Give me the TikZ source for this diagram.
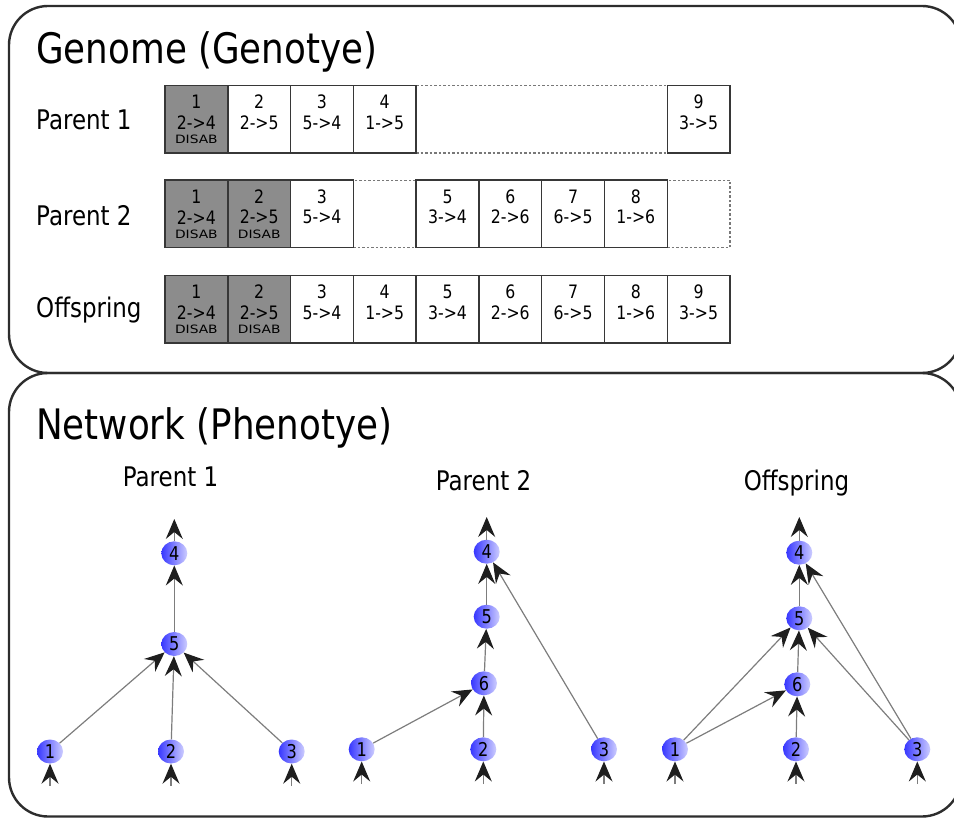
\documentclass[tikz,border=0pt]{standalone}
\usepackage{fontspec}
\setmainfont{DejaVu Sans}[FakeStretch=0.85]
\newfontfamily\tagfont{DejaVu Sans}[FakeStretch=1.2]
\usetikzlibrary{arrows.meta,shapes.geometric,calc}

\definecolor{framecol}{RGB}{45,45,45}
\definecolor{boxline}{RGB}{55,55,55}
\definecolor{disabfill}{RGB}{140,140,140}
\definecolor{gapline}{RGB}{120,120,120}
\definecolor{edgecol}{RGB}{125,125,125}
\definecolor{tipcol}{RGB}{30,30,30}
\definecolor{neurondark}{RGB}{55,55,255}
\definecolor{neuronlight}{RGB}{205,205,255}

% one gene: name, x, top, style, innovation number, connection
\newcommand{\gene}[6]{%
  \node[#4, anchor=north west] (#1) at (#2,#3) {};
  \node[genetext] at ([yshift=-16.5pt]#1.north) {#5};
  \node[genetext] at ([yshift=-37pt]#1.north) {#6};}
\newcommand{\disab}[1]{\node[disabtext] at ([yshift=-54pt]#1.north) {DISAB};}

\begin{document}
\begin{tikzpicture}[x=1pt,y=-1pt,
  panel/.style={draw=framecol, line width=2.4pt, rounded corners=39pt},
  bigtitle/.style={anchor=base west, inner sep=0pt, font=\fontsize{42}{48}\selectfont},
  rowlabel/.style={anchor=base west, inner sep=0pt, font=\fontsize{27}{32}\selectfont},
  subtitle/.style={anchor=base, inner sep=0pt, font=\fontsize{27}{32}\selectfont},
  genebox/.style={draw=boxline, line width=1.4pt, fill=white, outer sep=0pt,
    inner sep=0pt, minimum width=62.8pt, minimum height=67.5pt},
  offbox/.style={genebox, fill=disabfill},
  gapbox/.style={draw=gapline, line width=1.3pt, dash pattern=on 2.5pt off 2pt,
    outer sep=0pt, inner sep=0pt, minimum height=67.5pt},
  genetext/.style={inner sep=0pt, font=\fontsize{18.5}{20}\selectfont},
  disabtext/.style={inner sep=0pt, font=\tagfont\fontsize{11.5}{13}\selectfont},
  neuron/.style={ellipse, inner sep=0pt, minimum width=26pt, minimum height=24pt,
    left color=neurondark, right color=neuronlight,
    font=\fontsize{19}{21}\selectfont},
  edge/.style={draw=edgecol, line width=1.2pt,
    -{Stealth[length=20pt, width=17pt, inset=7pt, color=tipcol]}}
]
\useasboundingbox (0,0) rectangle (954,818);

% ---------------- panels ----------------
\draw[panel] (9,6) rectangle (961,373);
\draw[panel] (9,373) rectangle (961,816.5);

% ---------------- genome ----------------
\node[bigtitle] (gtitle) at (36,64) {Genome (Genotye)};
\node[rowlabel] (lp1) at (36,130) {Parent 1};
\node[rowlabel] (lp2) at (36,226) {Parent 2};
\node[rowlabel] (loff) at (36,318) {Offspring};

% parent 1
\node[gapbox, minimum width=251.1pt, anchor=north west] (p1gap) at (416.1,85.5) {};
\gene{pa1}{165}{85.5}{offbox}{1}{2->4}\disab{pa1}
\gene{pa2}{227.8}{85.5}{genebox}{2}{2->5}
\gene{pa3}{290.6}{85.5}{genebox}{3}{5->4}
\gene{pa4}{353.3}{85.5}{genebox}{4}{1->5}
\gene{pa9}{667.2}{85.5}{genebox}{9}{3->5}

% parent 2
\node[gapbox, minimum width=62.8pt, anchor=north west] (p2gapa) at (353.3,180.2) {};
\node[gapbox, minimum width=62.8pt, anchor=north west] (p2gapb) at (667.2,180.2) {};
\gene{pb1}{165}{180.2}{offbox}{1}{2->4}\disab{pb1}
\gene{pb2}{227.8}{180.2}{offbox}{2}{2->5}\disab{pb2}
\gene{pb3}{290.6}{180.2}{genebox}{3}{5->4}
\gene{pb5}{416.1}{180.2}{genebox}{5}{3->4}
\gene{pb6}{478.9}{180.2}{genebox}{6}{2->6}
\gene{pb7}{541.7}{180.2}{genebox}{7}{6->5}
\gene{pb8}{604.4}{180.2}{genebox}{8}{1->6}

% offspring
\gene{oc1}{165}{275.5}{offbox}{1}{2->4}\disab{oc1}
\gene{oc2}{227.8}{275.5}{offbox}{2}{2->5}\disab{oc2}
\gene{oc3}{290.6}{275.5}{genebox}{3}{5->4}
\gene{oc4}{353.3}{275.5}{genebox}{4}{1->5}
\gene{oc5}{416.1}{275.5}{genebox}{5}{3->4}
\gene{oc6}{478.9}{275.5}{genebox}{6}{2->6}
\gene{oc7}{541.7}{275.5}{genebox}{7}{6->5}
\gene{oc8}{604.4}{275.5}{genebox}{8}{1->6}
\gene{oc9}{667.2}{275.5}{genebox}{9}{3->5}

% ---------------- network ----------------
\node[bigtitle] (ntitle) at (36,440) {Network (Phenotye)};
\node[subtitle] (sp1) at (170.5,486) {Parent 1};
\node[subtitle] (sp2) at (483.5,490) {Parent 2};
\node[subtitle] (soff) at (796.5,490) {Offspring};

% parent 1 network
\node[neuron] (a4) at (174.3,553.3) {4};
\node[neuron] (a5) at (174.3,644) {5};
\node[neuron] (a1) at (50,751.5) {1};
\node[neuron] (a2) at (171,751.5) {2};
\node[neuron] (a3) at (291.7,751.5) {3};
\coordinate (aout) at (174.3,519);
\coordinate (ain1) at (50,786);
\coordinate (ain2) at (171,786);
\coordinate (ain3) at (291.7,786);
\draw[edge] (a4) -- (aout);
\draw[edge] (a5) -- (a4);
\draw[edge] (a1) -- (a5);
\draw[edge] (a2) -- (a5);
\draw[edge] (a3) -- (a5);
\draw[edge] (ain1) -- (a1);
\draw[edge] (ain2) -- (a2);
\draw[edge] (ain3) -- (a3);

% parent 2 network
\node[neuron] (b4) at (486.7,551.7) {4};
\node[neuron] (b5) at (486.7,616.7) {5};
\node[neuron] (b6) at (484,683.3) {6};
\node[neuron] (b1) at (361.7,749.3) {1};
\node[neuron] (b2) at (483.3,749.3) {2};
\node[neuron] (b3) at (604,749.3) {3};
\coordinate (bout) at (486.7,517);
\coordinate (bin1) at (361.7,784);
\coordinate (bin2) at (483.3,784);
\coordinate (bin3) at (604,784);
\draw[edge] (b4) -- (bout);
\draw[edge] (b5) -- (b4);
\draw[edge] (b6) -- (b5);
\draw[edge] (b2) -- (b6);
\draw[edge] (b1) -- (b6);
\draw[edge] (b3) -- (b4);
\draw[edge] (bin1) -- (b1);
\draw[edge] (bin2) -- (b2);
\draw[edge] (bin3) -- (b3);

% offspring network
\node[neuron] (c4) at (799.3,552.7) {4};
\node[neuron] (c5) at (799.3,618.3) {5};
\node[neuron] (c6) at (797.3,684.3) {6};
\node[neuron] (c1) at (675,749.3) {1};
\node[neuron] (c2) at (796,749.3) {2};
\node[neuron] (c3) at (917.3,749.3) {3};
\coordinate (cout) at (799.3,517);
\coordinate (cin1) at (675,784);
\coordinate (cin2) at (796,784);
\coordinate (cin3) at (917.3,784);
\draw[edge] (c4) -- (cout);
\draw[edge] (c5) -- (c4);
\draw[edge] (c6) -- (c5);
\draw[edge] (c2) -- (c6);
\draw[edge] (c1) -- (c5);
\draw[edge] (c1) -- (c6);
\draw[edge] (c3) -- (c5);
\draw[edge] (c3) -- (c4);
\draw[edge] (cin1) -- (c1);
\draw[edge] (cin2) -- (c2);
\draw[edge] (cin3) -- (c3);
\end{tikzpicture}
\end{document}
